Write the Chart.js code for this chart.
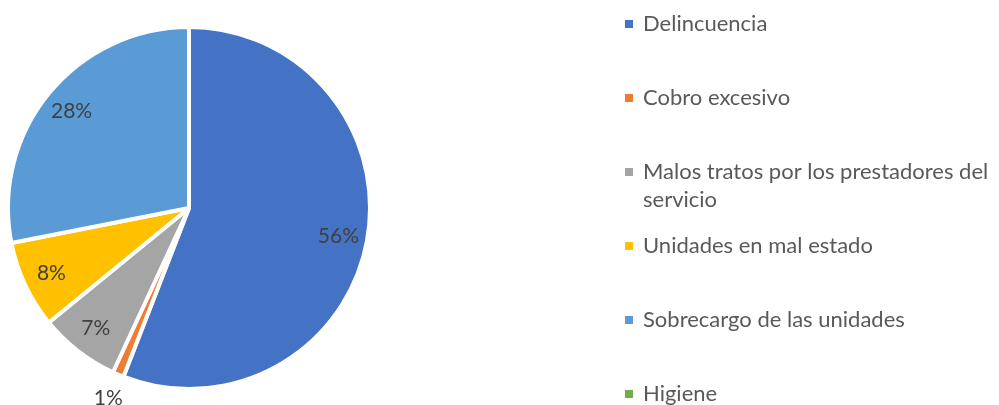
<!DOCTYPE html>
<html>
<head>
<meta charset="utf-8">
<script src="https://cdn.jsdelivr.net/npm/chart.js@4"></script>
<style>
  html, body { margin: 0; padding: 0; background: #ffffff; }
  #wrap { width: 999px; height: 405px; position: relative; }
</style>
</head>
<body>
<div id="wrap"><canvas id="c" width="999" height="405"></canvas></div>
<script>
// ---- data ----
const categories = [
  'Delincuencia',
  'Cobro excesivo',
  'Malos tratos por los prestadores del servicio',
  'Unidades en mal estado',
  'Sobrecargo de las unidades',
  'Higiene'
];
const shares = [55.9, 1.0, 7.2, 7.8, 28.1, 0];
const colors = ['#4472C4', '#ED7D31', '#A5A5A5', '#FFC000', '#5B9BD5', '#70AD47'];

const FONT = 'Lato, "Open Sans", sans-serif';

// data labels drawn at slice positions from the arc elements
const pieLabels = {
  id: 'pieLabels',
  afterDatasetsDraw(chart) {
    const ctx = chart.ctx;
    const meta = chart.getDatasetMeta(0);
    const data = chart.data.datasets[0].data;
    const total = data.reduce((a, b) => a + b, 0);
    ctx.save();
    ctx.font = '21px ' + FONT;
    ctx.fillStyle = '#404040';
    ctx.textAlign = 'center';
    ctx.textBaseline = 'middle';
    meta.data.forEach((arc, i) => {
      const v = data[i];
      if (!v) return;
      const p = arc.getProps(['x', 'y', 'startAngle', 'endAngle', 'outerRadius'], true);
      const mid = (p.startAngle + p.endAngle) / 2;
      const pct = v / total * 100;
      const f = pct < 3 ? 1.14 : 0.84;
      const r = p.outerRadius * f;
      ctx.fillText(Math.round(pct) + '%', p.x + Math.cos(mid) * r, p.y + Math.sin(mid) * r);
    });
    ctx.restore();
  }
};

// legend on the right, one slot per category
const sideLegend = {
  id: 'sideLegend',
  afterDraw(chart) {
    const ctx = chart.ctx;
    const labels = chart.data.labels;
    const bg = chart.data.datasets[0].backgroundColor;
    const boxX = 625, textX = 643, maxW = chart.width - textX - 1;
    const firstY = 24, lastY = 394;
    const step = (lastY - firstY) / (labels.length - 1);
    const lineH = 28;
    ctx.save();
    ctx.font = '22px ' + FONT;
    ctx.textBaseline = 'middle';
    ctx.textAlign = 'left';
    labels.forEach((lab, i) => {
      const y = firstY + i * step;
      ctx.fillStyle = bg[i];
      ctx.fillRect(boxX, y - 4, 8, 8);
      // word wrap
      const words = lab.split(' ');
      const lines = [];
      let cur = '';
      words.forEach(w => {
        const t = cur ? cur + ' ' + w : w;
        if (ctx.measureText(t).width > maxW && cur) { lines.push(cur); cur = w; }
        else cur = t;
      });
      lines.push(cur);
      ctx.fillStyle = '#595959';
      lines.forEach((ln, k) => ctx.fillText(ln, textX, y + k * lineH));
    });
    ctx.restore();
  }
};

new Chart(document.getElementById('c'), {
  type: 'pie',
  data: {
    labels: categories,
    datasets: [{
      data: shares,
      backgroundColor: colors,
      borderColor: '#ffffff',
      borderWidth: 4
    }]
  },
  options: {
    responsive: false,
    animation: false,
    radius: 181,
    layout: { padding: { left: 0, right: 621, top: 11, bottom: 0 } },
    plugins: {
      legend: { display: false },
      tooltip: { enabled: false }
    }
  },
  plugins: [pieLabels, sideLegend]
});
</script>
</body>
</html>
